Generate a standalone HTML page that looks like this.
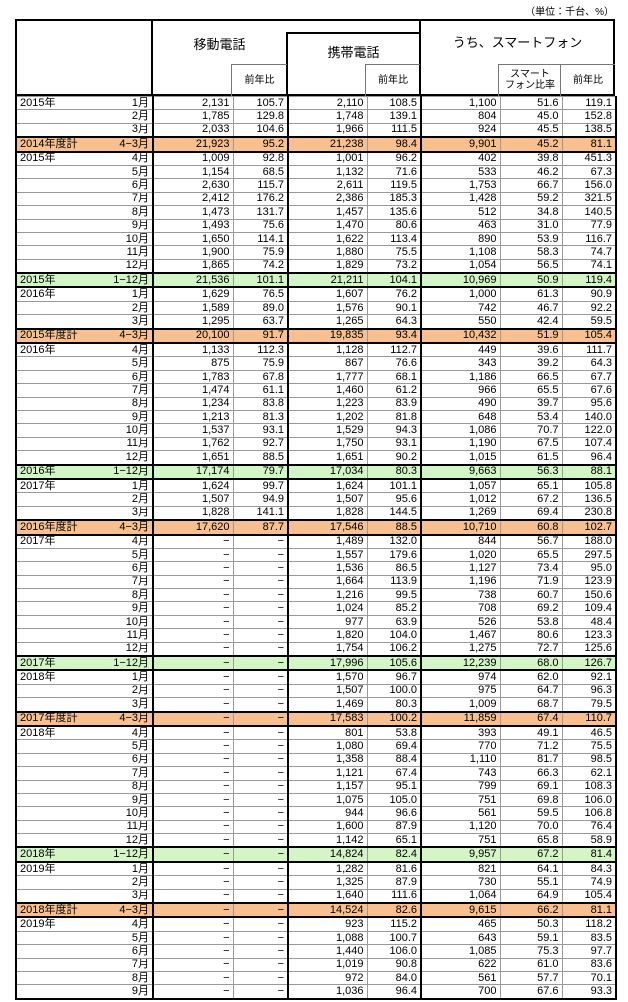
<!DOCTYPE html>
<html><head><meta charset="utf-8"><style>
body{margin:0;width:628px;height:1002px;background:#fff;position:relative;overflow:hidden;font-family:"Liberation Sans","Noto Sans CJK JP",sans-serif;color:#000}
.a{position:absolute}
.h{position:absolute;background:#000}
.t{position:absolute;font-size:13px;text-align:center}
.s{position:absolute;font-size:10px;text-align:center;line-height:11px}
table{position:absolute;left:15px;top:96px;width:600px;border-collapse:collapse;table-layout:fixed;font-size:11px}
td{height:12.4px;padding:0 3px;border:1px solid #999;text-align:right;line-height:11px;white-space:nowrap;overflow:hidden}
td:nth-child(1){border-left:2px solid #000;border-right:2px solid #000}
td:nth-child(3){border-right:2px solid #000}
td:nth-child(5){border-right:2px solid #000}
td:nth-child(8){border-right:2px solid #000}
td:nth-child(1) span{float:left}
tr.o td{background:#f8c08e;border-top:2px solid #000;border-bottom:2px solid #000}
tr.g td{background:#d4f6c6;border-top:2px solid #000;border-bottom:2px solid #000}
tr:last-child td{border-bottom:2px solid #000}
</style></head><body>
<div class="a" style="right:14px;top:3px;font-size:10px">（単位：千台、%）</div>
<div class="a" style="left:15px;top:19px;width:596px;height:73px;border:2px solid #000"></div>
<div class="h" style="left:151px;top:19px;width:2px;height:77px"></div>
<div class="h" style="left:419px;top:19px;width:2px;height:77px"></div>
<div class="h" style="left:286px;top:33px;width:2px;height:63px"></div>
<div class="h" style="left:286px;top:32px;width:134px;height:2px"></div>
<div class="h" style="left:232px;top:64px;width:55px;height:1px;background:#777"></div>
<div class="h" style="left:366px;top:64px;width:54px;height:1px;background:#777"></div>
<div class="h" style="left:499px;top:64px;width:116px;height:1px;background:#777"></div>
<div class="h" style="left:231px;top:64px;width:1px;height:32px;background:#777"></div>
<div class="h" style="left:365px;top:64px;width:1px;height:32px;background:#777"></div>
<div class="h" style="left:498px;top:64px;width:1px;height:32px;background:#777"></div>
<div class="h" style="left:560px;top:64px;width:1px;height:32px;background:#777"></div>
<div class="t" style="left:152px;width:135px;top:34px">移動電話</div>
<div class="t" style="left:287px;width:133px;top:42px">携帯電話</div>
<div class="t" style="left:420px;width:195px;top:32px">うち、スマートフォン</div>
<div class="s" style="left:232px;width:55px;top:75px">前年比</div>
<div class="s" style="left:366px;width:54px;top:75px">前年比</div>
<div class="s" style="left:561px;width:54px;top:75px">前年比</div>
<div class="s" style="left:499px;width:62px;top:69px">スマート<br>フォン比率</div>
<table>
<colgroup><col style="width:137px"><col style="width:80px"><col style="width:55px"><col style="width:79px"><col style="width:54px"><col style="width:79px"><col style="width:62px"><col style="width:54px"></colgroup>
<tr><td><span>2015年</span>1月</td><td>2,131</td><td>105.7</td><td>2,110</td><td>108.5</td><td>1,100</td><td>51.6</td><td>119.1</td></tr>
<tr><td>2月</td><td>1,785</td><td>129.8</td><td>1,748</td><td>139.1</td><td>804</td><td>45.0</td><td>152.8</td></tr>
<tr><td>3月</td><td>2,033</td><td>104.6</td><td>1,966</td><td>111.5</td><td>924</td><td>45.5</td><td>138.5</td></tr>
<tr class="o"><td><span>2014年度計</span>4−3月</td><td>21,923</td><td>95.2</td><td>21,238</td><td>98.4</td><td>9,901</td><td>45.2</td><td>81.1</td></tr>
<tr><td><span>2015年</span>4月</td><td>1,009</td><td>92.8</td><td>1,001</td><td>96.2</td><td>402</td><td>39.8</td><td>451.3</td></tr>
<tr><td>5月</td><td>1,154</td><td>68.5</td><td>1,132</td><td>71.6</td><td>533</td><td>46.2</td><td>67.3</td></tr>
<tr><td>6月</td><td>2,630</td><td>115.7</td><td>2,611</td><td>119.5</td><td>1,753</td><td>66.7</td><td>156.0</td></tr>
<tr><td>7月</td><td>2,412</td><td>176.2</td><td>2,386</td><td>185.3</td><td>1,428</td><td>59.2</td><td>321.5</td></tr>
<tr><td>8月</td><td>1,473</td><td>131.7</td><td>1,457</td><td>135.6</td><td>512</td><td>34.8</td><td>140.5</td></tr>
<tr><td>9月</td><td>1,493</td><td>75.6</td><td>1,470</td><td>80.6</td><td>463</td><td>31.0</td><td>77.9</td></tr>
<tr><td>10月</td><td>1,650</td><td>114.1</td><td>1,622</td><td>113.4</td><td>890</td><td>53.9</td><td>116.7</td></tr>
<tr><td>11月</td><td>1,900</td><td>75.9</td><td>1,880</td><td>75.5</td><td>1,108</td><td>58.3</td><td>74.7</td></tr>
<tr><td>12月</td><td>1,865</td><td>74.2</td><td>1,829</td><td>73.2</td><td>1,054</td><td>56.5</td><td>74.1</td></tr>
<tr class="g"><td><span>2015年</span>1−12月</td><td>21,536</td><td>101.1</td><td>21,211</td><td>104.1</td><td>10,969</td><td>50.9</td><td>119.4</td></tr>
<tr><td><span>2016年</span>1月</td><td>1,629</td><td>76.5</td><td>1,607</td><td>76.2</td><td>1,000</td><td>61.3</td><td>90.9</td></tr>
<tr><td>2月</td><td>1,589</td><td>89.0</td><td>1,576</td><td>90.1</td><td>742</td><td>46.7</td><td>92.2</td></tr>
<tr><td>3月</td><td>1,295</td><td>63.7</td><td>1,265</td><td>64.3</td><td>550</td><td>42.4</td><td>59.5</td></tr>
<tr class="o"><td><span>2015年度計</span>4−3月</td><td>20,100</td><td>91.7</td><td>19,835</td><td>93.4</td><td>10,432</td><td>51.9</td><td>105.4</td></tr>
<tr><td><span>2016年</span>4月</td><td>1,133</td><td>112.3</td><td>1,128</td><td>112.7</td><td>449</td><td>39.6</td><td>111.7</td></tr>
<tr><td>5月</td><td>875</td><td>75.9</td><td>867</td><td>76.6</td><td>343</td><td>39.2</td><td>64.3</td></tr>
<tr><td>6月</td><td>1,783</td><td>67.8</td><td>1,777</td><td>68.1</td><td>1,186</td><td>66.5</td><td>67.7</td></tr>
<tr><td>7月</td><td>1,474</td><td>61.1</td><td>1,460</td><td>61.2</td><td>966</td><td>65.5</td><td>67.6</td></tr>
<tr><td>8月</td><td>1,234</td><td>83.8</td><td>1,223</td><td>83.9</td><td>490</td><td>39.7</td><td>95.6</td></tr>
<tr><td>9月</td><td>1,213</td><td>81.3</td><td>1,202</td><td>81.8</td><td>648</td><td>53.4</td><td>140.0</td></tr>
<tr><td>10月</td><td>1,537</td><td>93.1</td><td>1,529</td><td>94.3</td><td>1,086</td><td>70.7</td><td>122.0</td></tr>
<tr><td>11月</td><td>1,762</td><td>92.7</td><td>1,750</td><td>93.1</td><td>1,190</td><td>67.5</td><td>107.4</td></tr>
<tr><td>12月</td><td>1,651</td><td>88.5</td><td>1,651</td><td>90.2</td><td>1,015</td><td>61.5</td><td>96.4</td></tr>
<tr class="g"><td><span>2016年</span>1−12月</td><td>17,174</td><td>79.7</td><td>17,034</td><td>80.3</td><td>9,663</td><td>56.3</td><td>88.1</td></tr>
<tr><td><span>2017年</span>1月</td><td>1,624</td><td>99.7</td><td>1,624</td><td>101.1</td><td>1,057</td><td>65.1</td><td>105.8</td></tr>
<tr><td>2月</td><td>1,507</td><td>94.9</td><td>1,507</td><td>95.6</td><td>1,012</td><td>67.2</td><td>136.5</td></tr>
<tr><td>3月</td><td>1,828</td><td>141.1</td><td>1,828</td><td>144.5</td><td>1,269</td><td>69.4</td><td>230.8</td></tr>
<tr class="o"><td><span>2016年度計</span>4−3月</td><td>17,620</td><td>87.7</td><td>17,546</td><td>88.5</td><td>10,710</td><td>60.8</td><td>102.7</td></tr>
<tr><td><span>2017年</span>4月</td><td>−</td><td>−</td><td>1,489</td><td>132.0</td><td>844</td><td>56.7</td><td>188.0</td></tr>
<tr><td>5月</td><td>−</td><td>−</td><td>1,557</td><td>179.6</td><td>1,020</td><td>65.5</td><td>297.5</td></tr>
<tr><td>6月</td><td>−</td><td>−</td><td>1,536</td><td>86.5</td><td>1,127</td><td>73.4</td><td>95.0</td></tr>
<tr><td>7月</td><td>−</td><td>−</td><td>1,664</td><td>113.9</td><td>1,196</td><td>71.9</td><td>123.9</td></tr>
<tr><td>8月</td><td>−</td><td>−</td><td>1,216</td><td>99.5</td><td>738</td><td>60.7</td><td>150.6</td></tr>
<tr><td>9月</td><td>−</td><td>−</td><td>1,024</td><td>85.2</td><td>708</td><td>69.2</td><td>109.4</td></tr>
<tr><td>10月</td><td>−</td><td>−</td><td>977</td><td>63.9</td><td>526</td><td>53.8</td><td>48.4</td></tr>
<tr><td>11月</td><td>−</td><td>−</td><td>1,820</td><td>104.0</td><td>1,467</td><td>80.6</td><td>123.3</td></tr>
<tr><td>12月</td><td>−</td><td>−</td><td>1,754</td><td>106.2</td><td>1,275</td><td>72.7</td><td>125.6</td></tr>
<tr class="g"><td><span>2017年</span>1−12月</td><td>−</td><td>−</td><td>17,996</td><td>105.6</td><td>12,239</td><td>68.0</td><td>126.7</td></tr>
<tr><td><span>2018年</span>1月</td><td>−</td><td>−</td><td>1,570</td><td>96.7</td><td>974</td><td>62.0</td><td>92.1</td></tr>
<tr><td>2月</td><td>−</td><td>−</td><td>1,507</td><td>100.0</td><td>975</td><td>64.7</td><td>96.3</td></tr>
<tr><td>3月</td><td>−</td><td>−</td><td>1,469</td><td>80.3</td><td>1,009</td><td>68.7</td><td>79.5</td></tr>
<tr class="o"><td><span>2017年度計</span>4−3月</td><td>−</td><td>−</td><td>17,583</td><td>100.2</td><td>11,859</td><td>67.4</td><td>110.7</td></tr>
<tr><td><span>2018年</span>4月</td><td>−</td><td>−</td><td>801</td><td>53.8</td><td>393</td><td>49.1</td><td>46.5</td></tr>
<tr><td>5月</td><td>−</td><td>−</td><td>1,080</td><td>69.4</td><td>770</td><td>71.2</td><td>75.5</td></tr>
<tr><td>6月</td><td>−</td><td>−</td><td>1,358</td><td>88.4</td><td>1,110</td><td>81.7</td><td>98.5</td></tr>
<tr><td>7月</td><td>−</td><td>−</td><td>1,121</td><td>67.4</td><td>743</td><td>66.3</td><td>62.1</td></tr>
<tr><td>8月</td><td>−</td><td>−</td><td>1,157</td><td>95.1</td><td>799</td><td>69.1</td><td>108.3</td></tr>
<tr><td>9月</td><td>−</td><td>−</td><td>1,075</td><td>105.0</td><td>751</td><td>69.8</td><td>106.0</td></tr>
<tr><td>10月</td><td>−</td><td>−</td><td>944</td><td>96.6</td><td>561</td><td>59.5</td><td>106.8</td></tr>
<tr><td>11月</td><td>−</td><td>−</td><td>1,600</td><td>87.9</td><td>1,120</td><td>70.0</td><td>76.4</td></tr>
<tr><td>12月</td><td>−</td><td>−</td><td>1,142</td><td>65.1</td><td>751</td><td>65.8</td><td>58.9</td></tr>
<tr class="g"><td><span>2018年</span>1−12月</td><td>−</td><td>−</td><td>14,824</td><td>82.4</td><td>9,957</td><td>67.2</td><td>81.4</td></tr>
<tr><td><span>2019年</span>1月</td><td>−</td><td>−</td><td>1,282</td><td>81.6</td><td>821</td><td>64.1</td><td>84.3</td></tr>
<tr><td>2月</td><td>−</td><td>−</td><td>1,325</td><td>87.9</td><td>730</td><td>55.1</td><td>74.9</td></tr>
<tr><td>3月</td><td>−</td><td>−</td><td>1,640</td><td>111.6</td><td>1,064</td><td>64.9</td><td>105.4</td></tr>
<tr class="o"><td><span>2018年度計</span>4−3月</td><td>−</td><td>−</td><td>14,524</td><td>82.6</td><td>9,615</td><td>66.2</td><td>81.1</td></tr>
<tr><td><span>2019年</span>4月</td><td>−</td><td>−</td><td>923</td><td>115.2</td><td>465</td><td>50.3</td><td>118.2</td></tr>
<tr><td>5月</td><td>−</td><td>−</td><td>1,088</td><td>100.7</td><td>643</td><td>59.1</td><td>83.5</td></tr>
<tr><td>6月</td><td>−</td><td>−</td><td>1,440</td><td>106.0</td><td>1,085</td><td>75.3</td><td>97.7</td></tr>
<tr><td>7月</td><td>−</td><td>−</td><td>1,019</td><td>90.8</td><td>622</td><td>61.0</td><td>83.6</td></tr>
<tr><td>8月</td><td>−</td><td>−</td><td>972</td><td>84.0</td><td>561</td><td>57.7</td><td>70.1</td></tr>
<tr><td>9月</td><td>−</td><td>−</td><td>1,036</td><td>96.4</td><td>700</td><td>67.6</td><td>93.3</td></tr>
</table>
</body></html>
